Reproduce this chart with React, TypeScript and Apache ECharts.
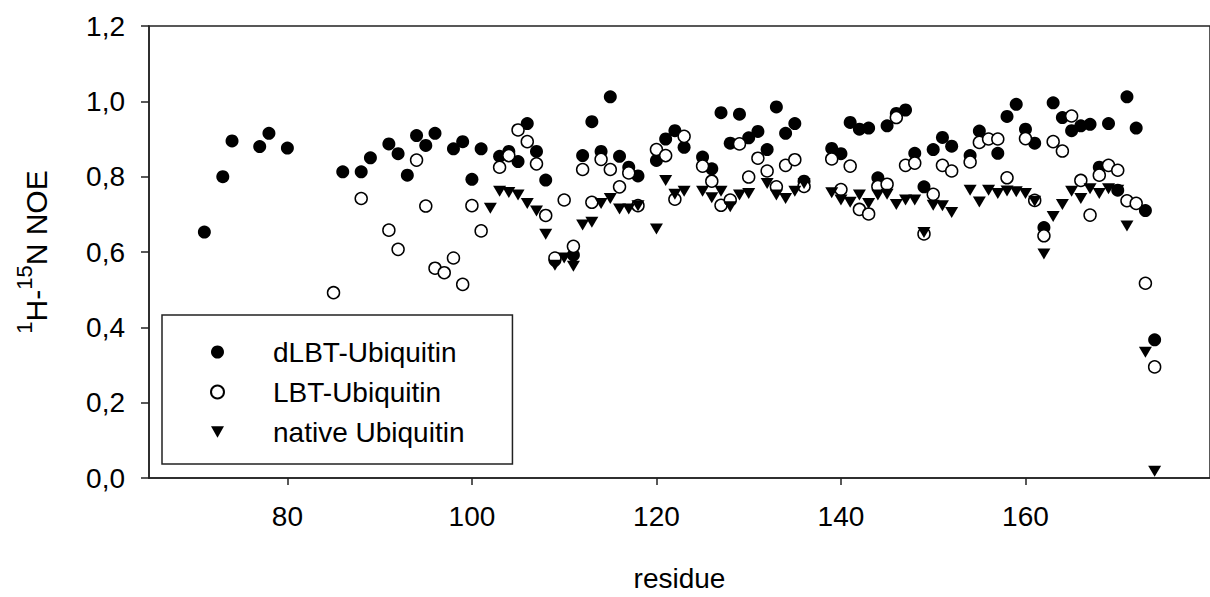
import React, { useEffect, useRef } from "react";
import * as echarts from "echarts";

const FONT = "'Liberation Sans', Arial, Helvetica, sans-serif";

// x axis tick labels and range
const xTicks = [80, 100, 120, 140, 160];
const xMin = 65;
const xMax = 180;
// y axis
const yMin = 0;
const yMax = 1.2;
const yStep = 0.2;

const seriesNames = ["dLBT-Ubiquitin", "LBT-Ubiquitin", "native Ubiquitin"];

// dLBT-Ubiquitin (filled circles)
const dlbtResidues = [
  71, 73, 74, 77, 78, 80, 86, 88, 89, 91, 92, 93, 94, 95, 96, 98, 99, 100, 101,
  103, 104, 105, 106, 107, 108, 109, 111, 112, 113, 114, 115, 116, 117, 118,
  120, 121, 122, 123, 125, 126, 127, 128, 129, 130, 131, 132, 133, 134, 135,
  136, 139, 140, 141, 142, 143, 144, 145, 146, 147, 148, 149, 150, 151, 152,
  154, 155, 157, 158, 159, 160, 161, 162, 163, 164, 165, 166, 167, 168, 169,
  170, 171, 172, 173, 174,
];
const dlbtNoe = [
  0.653, 0.8, 0.895, 0.88, 0.915, 0.876, 0.813, 0.813, 0.85, 0.887, 0.861,
  0.804, 0.909, 0.883, 0.915, 0.874, 0.893, 0.793, 0.874, 0.854, 0.867, 0.84,
  0.941, 0.867, 0.791, 0.578, 0.592, 0.856, 0.946, 0.867, 1.012, 0.854, 0.825,
  0.802, 0.843, 0.9, 0.922, 0.878, 0.852, 0.821, 0.97, 0.889, 0.966, 0.903,
  0.92, 0.872, 0.985, 0.915, 0.941, 0.788, 0.875, 0.861, 0.944, 0.926, 0.929,
  0.797, 0.935, 0.968, 0.977, 0.862, 0.773, 0.872, 0.904, 0.881, 0.856, 0.921,
  0.862, 0.96, 0.992, 0.926, 0.889, 0.665, 0.996, 0.957, 0.922, 0.935, 0.939,
  0.825, 0.941, 0.764, 1.012, 0.929, 0.71, 0.367,
];

// LBT-Ubiquitin (open circles)
const lbtResidues = [
  85, 88, 91, 92, 94, 95, 96, 97, 98, 99, 100, 101, 103, 104, 105, 106, 107,
  108, 109, 110, 111, 112, 113, 114, 115, 116, 117, 118, 120, 121, 122, 123,
  125, 126, 127, 128, 129, 130, 131, 132, 133, 134, 135, 136, 139, 140, 141,
  142, 143, 144, 145, 146, 147, 148, 149, 150, 151, 152, 154, 155, 156, 157,
  158, 160, 161, 162, 163, 164, 165, 166, 167, 168, 169, 170, 171, 172, 173,
  174,
];
const lbtNoe = [
  0.492, 0.742, 0.658, 0.607, 0.844, 0.722, 0.557, 0.545, 0.584, 0.514, 0.723,
  0.656, 0.825, 0.856, 0.924, 0.893, 0.834, 0.697, 0.584, 0.738, 0.615, 0.819,
  0.732, 0.846, 0.819, 0.773, 0.81, 0.723, 0.872, 0.856, 0.74, 0.907, 0.828,
  0.788, 0.724, 0.738, 0.887, 0.799, 0.849, 0.815, 0.773, 0.83, 0.845, 0.774,
  0.847, 0.766, 0.828, 0.713, 0.701, 0.774, 0.78, 0.957, 0.83, 0.836, 0.648,
  0.753, 0.83, 0.815, 0.839, 0.891, 0.9, 0.9, 0.797, 0.901, 0.737, 0.643,
  0.893, 0.868, 0.961, 0.79, 0.698, 0.804, 0.83, 0.817, 0.736, 0.729, 0.517,
  0.295,
];

// native Ubiquitin (filled down triangles)
const nativeResidues = [
  102, 103, 104, 105, 106, 107, 108, 109, 110, 111, 112, 113, 114, 115, 116,
  117, 118, 120, 121, 122, 123, 125, 126, 127, 128, 129, 130, 132, 133, 134,
  135, 136, 139, 140, 141, 142, 143, 144, 145, 146, 147, 148, 149, 150, 151,
  152, 154, 155, 156, 157, 158, 159, 160, 161, 162, 163, 164, 165, 166, 167,
  168, 169, 170, 171, 173, 174,
];
const nativeNoe = [
  0.716, 0.761, 0.758, 0.751, 0.729, 0.709, 0.647, 0.565, 0.584, 0.562, 0.672,
  0.679, 0.729, 0.742, 0.714, 0.714, 0.723, 0.661, 0.79, 0.753, 0.761, 0.761,
  0.744, 0.761, 0.72, 0.751, 0.755, 0.782, 0.751, 0.742, 0.761, 0.782, 0.757,
  0.738, 0.732, 0.751, 0.729, 0.751, 0.753, 0.726, 0.738, 0.738, 0.652, 0.724,
  0.723, 0.705, 0.764, 0.733, 0.764, 0.755, 0.762, 0.76, 0.755, 0.735, 0.595,
  0.694, 0.726, 0.761, 0.742, 0.768, 0.755, 0.768, 0.764, 0.669, 0.334, 0.018,
];

const pair = (xs: number[], ys: number[]) => xs.map((x, i) => [x, ys[i]]);

const TRIANGLE_DOWN = "path://M0,0 L10,0 L5,9 Z";
const AXIS_COLOR = "#222";

export default function App() {
  const ref = useRef<HTMLDivElement>(null);

  useEffect(() => {
    document.body.style.margin = "0";
    const chart = echarts.init(ref.current!, null, { renderer: "svg" });
    chart.setOption({
      animation: false,
      backgroundColor: "#fff",
      textStyle: { fontFamily: FONT, color: "#000" },
      grid: {
        left: 149,
        top: 26,
        width: 1095,
        height: 456,
        show: true,
        borderColor: AXIS_COLOR,
        borderWidth: 1.5,
        backgroundColor: "transparent",
      },
      legend: {
        orient: "vertical",
        left: 162,
        top: 315,
        padding: [23, 48, 18, 48],
        borderColor: AXIS_COLOR,
        borderWidth: 1.5,
        itemGap: 12,
        itemWidth: 13,
        itemHeight: 13,
        selectedMode: false,
        data: seriesNames,
        textStyle: {
          fontSize: 28,
          lineHeight: 28,
          color: "#000",
          fontFamily: FONT,
          padding: [0, 0, 0, 44],
        },
      },
      xAxis: {
        type: "value",
        min: xMin,
        max: xMax,
        name: "residue",
        nameLocation: "middle",
        nameGap: 86,
        nameTextStyle: { fontSize: 28, color: "#000", fontFamily: FONT },
        axisLine: { show: true, lineStyle: { color: AXIS_COLOR, width: 1.5 } },
        axisTick: {
          show: true,
          customValues: xTicks,
          length: 7,
          inside: false,
          lineStyle: { color: AXIS_COLOR, width: 1.5 },
        },
        axisLabel: {
          customValues: xTicks,
          fontSize: 28,
          color: "#000",
          fontFamily: FONT,
          margin: 24,
        },
        splitLine: { show: false },
      },
      yAxis: {
        type: "value",
        min: yMin,
        max: yMax,
        interval: yStep,
        name: "{s|1}{n|H-}{s|15}{n|N NOE}",
        nameLocation: "middle",
        nameRotate: 90,
        nameGap: 98,
        nameTextStyle: {
          color: "#000",
          fontFamily: FONT,
          rich: {
            n: { fontSize: 30, fontFamily: FONT, color: "#000", lineHeight: 38, verticalAlign: "bottom" },
            s: { fontSize: 22, fontFamily: FONT, color: "#000", lineHeight: 38, verticalAlign: "top" },
          },
        },
        axisLine: { show: true, lineStyle: { color: AXIS_COLOR, width: 1.5 } },
        axisTick: {
          show: true,
          length: 8,
          inside: false,
          lineStyle: { color: AXIS_COLOR, width: 1.5 },
        },
        axisLabel: {
          fontSize: 28,
          color: "#000",
          fontFamily: FONT,
          margin: 24,
          formatter: (v: number) => v.toFixed(1).replace(".", ","),
        },
        splitLine: { show: false },
      },
      series: [
        {
          name: seriesNames[0],
          type: "scatter",
          data: pair(dlbtResidues, dlbtNoe),
          symbol: "circle",
          symbolSize: 13,
          itemStyle: { color: "#000", opacity: 1 },
          z: 2,
        },
        {
          name: seriesNames[1],
          type: "scatter",
          data: pair(lbtResidues, lbtNoe),
          symbol: "circle",
          symbolSize: 12,
          itemStyle: { color: "#fff", borderColor: "#000", borderWidth: 1.5, opacity: 1 },
          z: 3,
        },
        {
          name: seriesNames[2],
          type: "scatter",
          data: pair(nativeResidues, nativeNoe),
          symbol: TRIANGLE_DOWN,
          symbolSize: [13, 11],
          itemStyle: { color: "#000", opacity: 1 },
          z: 4,
        },
      ],
    });
    return () => chart.dispose();
  }, []);

  return (
    <div
      ref={ref}
      style={{ position: "fixed", left: 0, top: 0, width: 1210, height: 597, background: "#fff" }}
    />
  );
}
